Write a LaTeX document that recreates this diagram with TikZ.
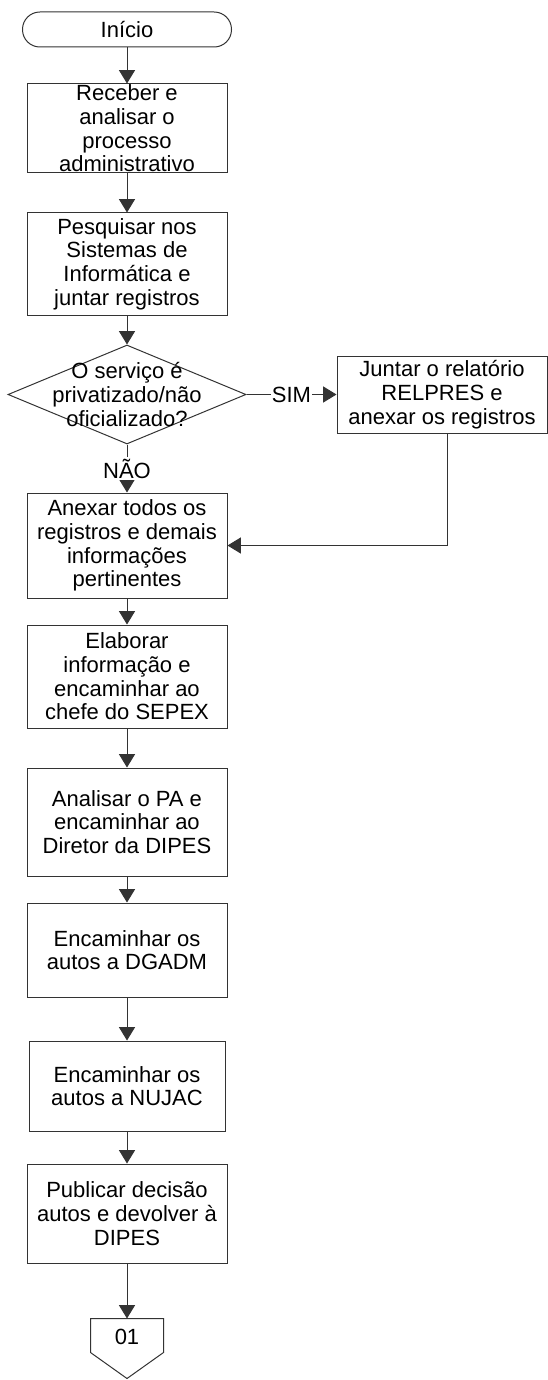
\documentclass[tikz,border=0pt]{standalone}
\usepackage{fontspec}
\setmainfont{Liberation Sans}
\usetikzlibrary{arrows.meta,shapes.geometric,calc}

\tikzset{
  proc/.style={draw=black!80, rectangle, align=center, inner sep=0pt, minimum width=150pt},
  term/.style={draw=black!80, rectangle, rounded corners=13pt, inner sep=0pt, minimum width=156.75pt, minimum height=26.25pt},
  decis/.style={draw=black!80, diamond, inner sep=0pt, minimum width=178.5pt, minimum height=74.25pt},
  seta/.style={draw=black!80, -{Triangle[length=10pt,width=12pt]}},
  rotulo/.style={fill=white, inner sep=1pt},
}

\begin{document}
\begin{tikzpicture}[x=0.75pt,y=0.75pt,yscale=-1,xscale=1,line width=0.75pt,font=\fontsize{16.5}{17.8}\selectfont]
\useasboundingbox (0,0) rectangle (548,1380);

%Shape: Terminator
\node [term] (inicio) at (127,29.5) {Início};
%Shape: Rectangle
\node [proc, minimum height=66.75pt] (receber) at (127,128.5) {Receber e\\analisar o\\processo\\administrativo};
%Shape: Rectangle
\node [proc, minimum height=76.5pt] (pesquisar) at (127,264) {Pesquisar nos\\Sistemas de\\Informática e\\juntar registros};
%Shape: Diamond
\node [decis] (servico) at (127,394.5) {};
% Text Node
\node [align=center, inner sep=0pt] (servicotxt) at (servico) {O serviço é\\privatizado/não\\oficializado?};
%Shape: Rectangle
\node [proc, minimum width=157.5pt, minimum height=57.75pt] (juntar) at (442,394.5) {Juntar o relatório\\RELPRES e\\anexar os registros};
%Shape: Rectangle
\node [proc, minimum height=78.75pt] (anexar) at (127,545.5) {Anexar todos os\\registros e demais\\informações\\pertinentes};
%Shape: Rectangle
\node [proc, minimum height=77.25pt] (elaborar) at (127,676.5) {Elaborar\\informação e\\encaminhar ao\\chefe do SEPEX};
%Shape: Rectangle
\node [proc, minimum height=81pt] (analisar) at (127,822) {Analisar o PA e\\encaminhar ao\\Diretor da DIPES};
%Shape: Rectangle
\node [proc, minimum height=70.5pt] (dgadm) at (127,950) {Encaminhar os\\autos a DGADM};
%Shape: Rectangle
\node [proc, minimum width=147pt, minimum height=67.5pt] (nujac) at (127,1086) {Encaminhar os\\autos a NUJAC};
%Shape: Rectangle
\node [proc, minimum height=74.25pt] (publicar) at (127,1213.5) {Publicar decisão\\autos e devolver à\\DIPES};
%Shape: Off-page connector
\node [inner sep=0pt, minimum width=54pt, minimum height=24.75pt, text height=1.3em, text depth=0pt] (conector) at (127,1335.5) {01};
\draw [draw=black!80] (conector.north west) -- (conector.north east) -- (conector.south east) -- ($(conector.south)+(0,26)$) -- (conector.south west) -- cycle;

%Straight Lines
\draw [seta] (inicio) -- (receber);
\draw [seta] (receber) -- (pesquisar);
\draw [seta] (pesquisar) -- (servico);
\draw [seta] (servico.east) -- node [rotulo] {SIM} (juntar.west);
\draw [seta] (servico.south) -- node [rotulo] {NÃO} (anexar.north);
\draw [seta] (juntar.south) ++(5,0) |- (anexar.east);
\draw [seta] (anexar) -- (elaborar);
\draw [seta] (elaborar) -- (analisar);
\draw [seta] (analisar) -- (dgadm);
\draw [seta] (dgadm) -- (nujac);
\draw [seta] (nujac) -- (publicar);
\draw [seta] (publicar) -- (conector);

\end{tikzpicture}
\end{document}
